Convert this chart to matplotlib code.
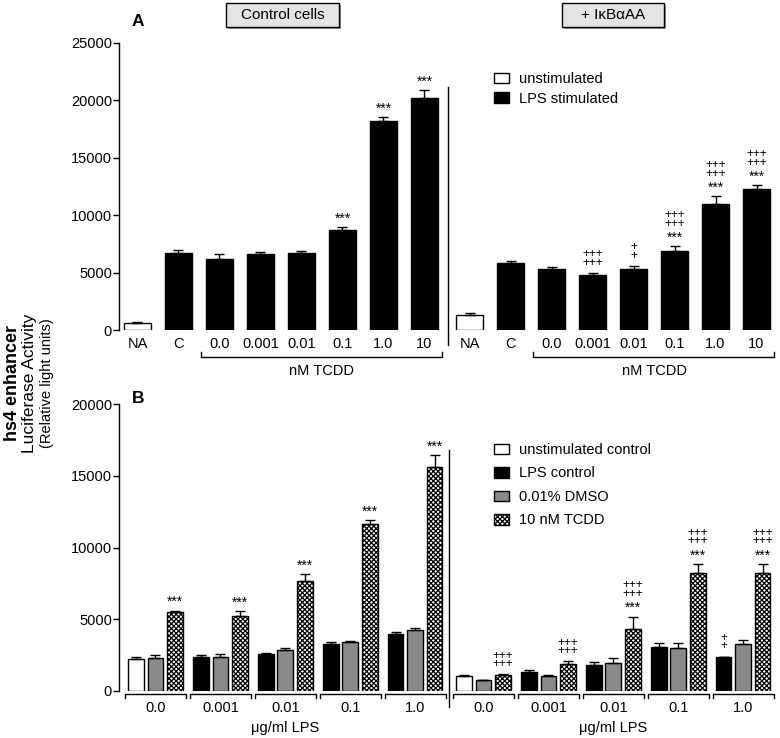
import numpy as np
import matplotlib
matplotlib.use("Agg")
import matplotlib.pyplot as plt
from matplotlib.patches import Rectangle, Patch

plt.rcParams['font.family'] = ['Liberation Sans', 'DejaVu Sans']
plt.rcParams['hatch.linewidth'] = 0.9

# ---- panel A data ----
a_labels = ['NA', 'C', '0.0', '0.001', '0.01', '0.1', '1.0', '10']
a_ctrl = [600, 6750, 6200, 6650, 6750, 8700, 18200, 20250]
a_ctrl_err = [100, 200, 400, 150, 120, 260, 380, 670]
a_ikb = [1350, 5800, 5300, 4750, 5300, 6850, 11000, 12250]
a_ikb_err = [150, 230, 150, 200, 260, 430, 650, 350]
a_ctrl_star = ['', '', '', '', '', '***', '***', '***']
a_ikb_star = ['', '', '', '', '', '***', '***', '***']
a_ikb_plus = ['', '', '', '+++\n+++', '+\n+', '+++\n+++', '+++\n+++', '+++\n+++']

# ---- panel B data ----
lps_doses = ['0.0', '0.001', '0.01', '0.1', '1.0']
b_ctrl_lps = [2200, 2400, 2600, 3300, 3950]
b_ctrl_lps_err = [140, 100, 50, 100, 140]
b_ctrl_dmso = [2300, 2400, 2850, 3400, 4250]
b_ctrl_dmso_err = [190, 200, 160, 90, 140]
b_ctrl_tcdd = [5500, 5200, 7700, 11650, 15600]
b_ctrl_tcdd_err = [100, 370, 440, 240, 840]
b_ikb_lps = [1050, 1300, 1800, 3050, 2350]
b_ikb_lps_err = [90, 160, 250, 280, 50]
b_ikb_dmso = [800, 1050, 1950, 3000, 3300]
b_ikb_dmso_err = [0, 60, 330, 370, 230]
b_ikb_tcdd = [1100, 1850, 4350, 8200, 8200]
b_ikb_tcdd_err = [60, 210, 840, 650, 650]
b_ctrl_tcdd_star = ['***', '***', '***', '***', '***']
b_ikb_tcdd_star = ['', '', '***', '***', '***']
b_ikb_tcdd_plus = ['+++\n+++'] * 5
b_ikb_lps_plus = ['', '', '', '', '+\n+']

GRAY = '#8a8a8a'
HATCH = 'xxxxxxx'
W, H = 780, 738


def fx(px):
    return px / W


def fy(py):
    return 1 - py / H


def marks(ax, x, top, star, plus):
    # significance symbols stacked above an error bar
    if star:
        ax.annotate(star, (x, top), xytext=(0, 1), textcoords='offset points',
                    ha='center', va='bottom', fontsize=10)
    if plus:
        ax.annotate(plus, (x, top), xytext=(0, 12 if star else 3),
                    textcoords='offset points', ha='center', va='bottom',
                    fontsize=8.5, linespacing=0.62)


def bars(ax, x, vals, err, width, **kw):
    ax.bar(x, vals, width=width, edgecolor='black', linewidth=1, zorder=2, **kw)
    ax.errorbar(x, vals, yerr=[np.zeros(len(err)), err], fmt='none',
                ecolor='black', elinewidth=1, capsize=3.5, capthick=1, zorder=3)


def bracket(ax, x0, x1, y, up):
    tr = ax.get_xaxis_transform()
    ax.plot([x0, x0, x1, x1], [y + up, y, y, y + up], color='black', lw=1,
            transform=tr, clip_on=False)


fig = plt.figure(figsize=(7.8, 7.38), dpi=100)

# ================= panel A =================
axA = fig.add_axes([fx(119), fy(330), fx(656), 287 / H])
xl = np.arange(8)
xr = np.arange(8) + 8.1
col_a = ['white'] + ['black'] * 7
bars(axA, xl, a_ctrl, a_ctrl_err, 0.66, color=col_a)
bars(axA, xr, a_ikb, a_ikb_err, 0.66, color=col_a)
for i in range(8):
    marks(axA, xl[i], a_ctrl[i] + a_ctrl_err[i], a_ctrl_star[i], '')
    marks(axA, xr[i], a_ikb[i] + a_ikb_err[i], a_ikb_star[i], a_ikb_plus[i])

axA.set_xlim(-0.45, 15.55)
axA.set_ylim(0, 25000)
axA.set_yticks(np.arange(0, 25001, 5000))
axA.set_xticks(np.concatenate([xl, xr]))
axA.set_xticklabels(a_labels + a_labels, fontsize=10.5)
axA.tick_params(axis='x', length=0, pad=5)
axA.tick_params(axis='y', labelsize=10.5, length=4, width=1, pad=1)
for s in ['top', 'right', 'bottom']:
    axA.spines[s].set_visible(False)
axA.spines['left'].set_linewidth(1)

trA = axA.get_xaxis_transform()
axA.plot([7.57, 7.57], [-0.052, 0.847], color='black', lw=1, transform=trA,
         clip_on=False)
bracket(axA, xl[2] - 0.45, xl[7] + 0.43, -0.094, 0.017)
bracket(axA, xr[2] - 0.45, xr[7] + 0.43, -0.094, 0.017)
axA.text((xl[2] + xl[7]) / 2, -0.143, 'nM TCDD', transform=trA, ha='center',
         va='center', fontsize=10.5)
axA.text((xr[2] + xr[7]) / 2, -0.143, 'nM TCDD', transform=trA, ha='center',
         va='center', fontsize=10.5)

axA.legend(handles=[Patch(facecolor='white', edgecolor='black', label='unstimulated'),
                    Patch(facecolor='black', edgecolor='black', label='LPS stimulated')],
           loc='upper left', bbox_to_anchor=(fx(494), fy(72)),
           bbox_transform=fig.transFigure, frameon=False, fontsize=10.5,
           handlelength=1.0, handleheight=0.75, handletextpad=0.7,
           labelspacing=0.4, borderpad=0, borderaxespad=0)

# ================= panel B =================
axB = fig.add_axes([fx(119), fy(691), fx(656), 287 / H])
gl = np.arange(5)
gr = np.arange(5) + 5.05
off, bw = 0.3, 0.24
col_b = ['white'] + ['black'] * 4
bars(axB, gl - off, b_ctrl_lps, b_ctrl_lps_err, bw, color=col_b)
bars(axB, gl, b_ctrl_dmso, b_ctrl_dmso_err, bw, color=GRAY)
bars(axB, gl + off, b_ctrl_tcdd, b_ctrl_tcdd_err, bw, color='white', hatch=HATCH)
bars(axB, gr - off, b_ikb_lps, b_ikb_lps_err, bw, color=col_b)
bars(axB, gr, b_ikb_dmso, b_ikb_dmso_err, bw, color=GRAY)
bars(axB, gr + off, b_ikb_tcdd, b_ikb_tcdd_err, bw, color='white', hatch=HATCH)
for i in range(5):
    marks(axB, gl[i] + off, b_ctrl_tcdd[i] + b_ctrl_tcdd_err[i], b_ctrl_tcdd_star[i], '')
    marks(axB, gr[i] + off, b_ikb_tcdd[i] + b_ikb_tcdd_err[i], b_ikb_tcdd_star[i],
          b_ikb_tcdd_plus[i])
    marks(axB, gr[i] - off, b_ikb_lps[i] + b_ikb_lps_err[i], '', b_ikb_lps_plus[i])

axB.set_xlim(-0.56, 9.54)
axB.set_ylim(0, 20000)
axB.set_yticks(np.arange(0, 20001, 5000))
axB.set_xticks(np.concatenate([gl, gr]))
axB.set_xticklabels(lps_doses + lps_doses, fontsize=10.5)
axB.tick_params(axis='x', length=0, pad=7)
axB.tick_params(axis='y', labelsize=10.5, length=4, width=1, pad=1)
for s in ['top', 'right', 'bottom']:
    axB.spines[s].set_visible(False)
axB.spines['left'].set_linewidth(1)

trB = axB.get_xaxis_transform()
axB.plot([4.525, 4.525], [-0.056, 0.84], color='black', lw=1, transform=trB,
         clip_on=False)
for g in np.concatenate([gl, gr]):
    bracket(axB, g - 0.47, g + 0.47, -0.012, -0.012)
axB.text(gl[2], -0.129, 'μg/ml LPS', transform=trB, ha='center', va='center',
         fontsize=10.5)
axB.text(gr[2], -0.129, 'μg/ml LPS', transform=trB, ha='center', va='center',
         fontsize=10.5)

axB.legend(handles=[Patch(facecolor='white', edgecolor='black', label='unstimulated control'),
                    Patch(facecolor='black', edgecolor='black', label='LPS control'),
                    Patch(facecolor=GRAY, edgecolor='black', label='0.01% DMSO'),
                    Patch(facecolor='white', edgecolor='black', hatch=HATCH,
                          label='10 nM TCDD')],
           loc='upper left', bbox_to_anchor=(fx(494), fy(443)),
           bbox_transform=fig.transFigure, frameon=False, fontsize=10.5,
           handlelength=1.0, handleheight=0.75, handletextpad=0.7,
           labelspacing=0.65, borderpad=0, borderaxespad=0)

# ================= labels, headers =================
fig.text(fx(138), fy(22), 'A', fontsize=12.5, fontweight='bold', ha='center', va='center')
fig.text(fx(138), fy(398), 'B', fontsize=12.5, fontweight='bold', ha='center', va='center')

fig.text(fx(13), fy(383), 'hs4 enhancer', rotation=90, fontsize=13,
         fontweight='bold', ha='center', va='center')
fig.text(fx(30), fy(383), 'Luciferase Activity', rotation=90, fontsize=12.5,
         ha='center', va='center')
fig.text(fx(47), fy(383), '(Relative light units)', rotation=90, fontsize=10.5,
         ha='center', va='center')

for x0, x1, label in [(226, 339, 'Control cells'), (562, 664, '+ IκBαAA')]:
    fig.add_artist(Rectangle((fx(x0 + 2), fy(29)), fx(x1 - x0), 24 / H,
                             transform=fig.transFigure, facecolor='#9a9a9a',
                             edgecolor='none'))
    fig.add_artist(Rectangle((fx(x0), fy(27)), fx(x1 - x0), 24 / H,
                             transform=fig.transFigure, facecolor='#e4e4e4',
                             edgecolor='black', linewidth=1))
    fig.text(fx((x0 + x1) / 2), fy(15), label, fontsize=11, ha='center',
             va='center')

fig.savefig('out.png', dpi=100)
